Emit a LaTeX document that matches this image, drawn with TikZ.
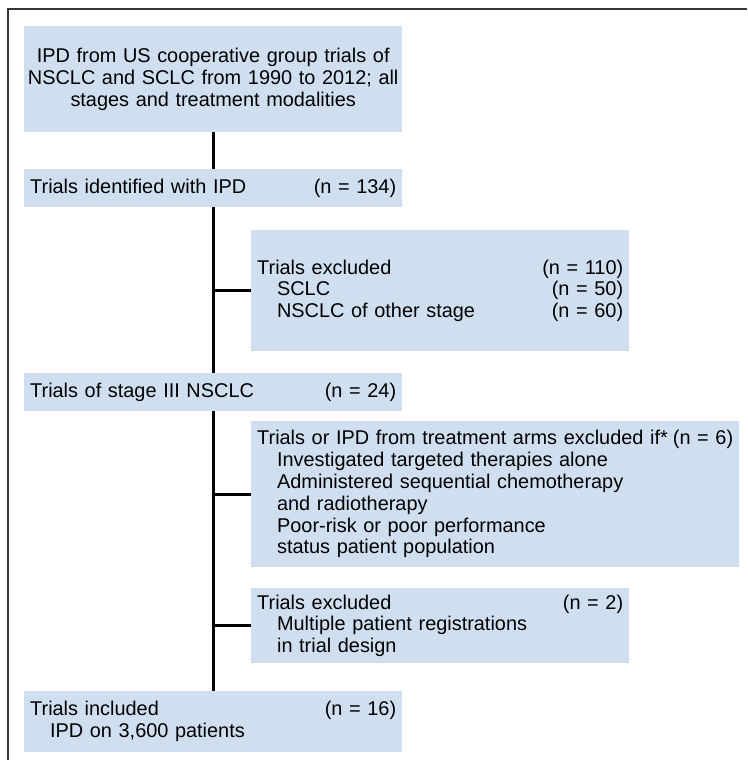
\documentclass[tikz,border=0pt]{standalone}
\usepackage{fontspec}
\setmainfont{Liberation Sans}
\usepackage{tikz}
\definecolor{boxblue}{RGB}{208,223,240}
\newcommand{\ncount}[1]{\hskip0pt plus1filll(n = #1)}
\newcommand{\itm}{\hspace*{1em}}

\begin{document}
\begin{tikzpicture}[x=1pt,y=-1pt,
	fbox/.style={fill=boxblue,anchor=north west,inner xsep=6pt,inner ysep=0pt,text width=366pt,align=left,font=\fontsize{19.9}{21.8}\selectfont},
	link/.style={line width=2.6pt}]
	\useasboundingbox (0,0) rectangle (747,760);
	\draw[line width=1.5pt,black!80] (747,9) -- (8,9) -- (8,760);
	\node[fbox,inner xsep=1pt,text width=376pt,align=center,minimum height=106pt] (src) at (24,26) {IPD from US cooperative group trials of\\ NSCLC and SCLC from 1990 to 2012; all\\ stages and treatment modalities};
	\node[fbox,minimum height=38pt] (ident) at (24,169) {Trials identified with IPD\ncount{134}};
	\node[fbox,minimum height=121pt] (excla) at (251,230) {Trials excluded\ncount{110}\\ \itm SCLC\ncount{50}\\ \itm NSCLC of other stage\ncount{60}};
	\node[fbox,minimum height=38pt] (stage) at (24,373) {Trials of stage III NSCLC\ncount{24}};
	\node[fbox,text width=476pt,minimum height=146pt] (exclb) at (251,421) {Trials or IPD from treatment arms excluded if*\ncount{6}\\ \itm Investigated targeted therapies alone\\ \itm Administered sequential chemotherapy\\ \itm and radiotherapy\\ \itm Poor-risk or poor performance\\ \itm status patient population};
	\node[fbox,minimum height=75pt] (exclc) at (251,588) {Trials excluded\ncount{2}\\ \itm Multiple patient registrations\\ \itm in trial design};
	\node[fbox,minimum height=61pt] (incl) at (24,691) {Trials included\ncount{16}\\ \itm IPD on 3,600 patients};
	\path[link]
	(src.south) edge (ident.north)
	(ident.south) edge (stage.north)
	(stage.south) edge (incl.north)
	(excla.west -| src.south) edge (excla.west)
	(exclb.west -| src.south) edge (exclb.west)
	(exclc.west -| src.south) edge (exclc.west);
\end{tikzpicture}
\end{document}
